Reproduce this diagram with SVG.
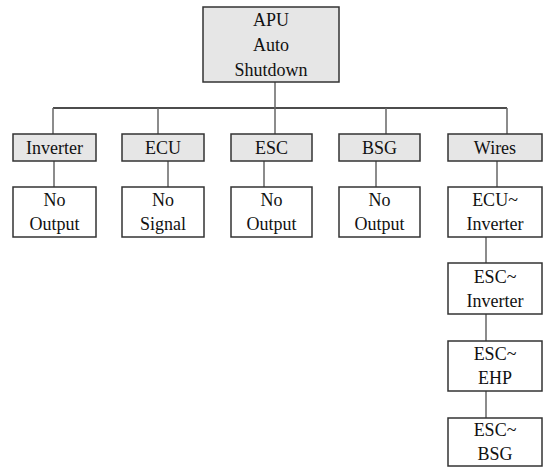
<svg xmlns="http://www.w3.org/2000/svg" width="545" height="468" viewBox="0 0 545 468">
  <style>
    .head { fill: #e6e6e6; stroke: #333; stroke-width: 1.5; }
    .leaf { fill: #ffffff; stroke: #333; stroke-width: 1.5; }
    .bus { stroke: #111; stroke-width: 1.3; fill: none; }
    .link { stroke: #666; stroke-width: 1.5; fill: none; }
    text { font-family: "Liberation Serif", "Times New Roman", serif; font-size: 18px; fill: #111; text-anchor: middle; }
  </style>
  <rect width="545" height="468" fill="#ffffff"/>

  <!-- connectors -->
  <g id="connectors">
    <line class="bus" x1="53" y1="108" x2="507" y2="108"/>
    <line class="link" x1="275" y1="82" x2="275" y2="134"/>
    <line class="link" x1="53" y1="108" x2="53" y2="134"/>
    <line class="link" x1="158" y1="108" x2="158" y2="134"/>
    <line class="link" x1="386" y1="108" x2="386" y2="134"/>
    <line class="link" x1="507" y1="108" x2="507" y2="134"/>
    <line class="link" x1="54" y1="161" x2="54" y2="187"/>
    <line class="link" x1="168" y1="161" x2="168" y2="187"/>
    <line class="link" x1="264" y1="161" x2="264" y2="187"/>
    <line class="link" x1="376" y1="161" x2="376" y2="187"/>
    <line class="link" x1="497" y1="161" x2="497" y2="187"/>
    <line class="link" x1="486" y1="237" x2="486" y2="263"/>
    <line class="link" x1="486" y1="314" x2="486" y2="341"/>
    <line class="link" x1="486" y1="391" x2="486" y2="418"/>
  </g>

  <!-- root -->
  <g id="apu">
    <rect class="head" x="203" y="7" width="136" height="75"/>
    <text x="271" y="26">APU</text>
    <text x="271" y="51">Auto</text>
    <text x="271" y="76">Shutdown</text>
  </g>

  <!-- component row -->
  <g id="inverter">
    <rect class="head" x="13" y="134" width="83" height="27"/>
    <text x="54.5" y="154">Inverter</text>
  </g>
  <g id="ecu">
    <rect class="head" x="122" y="134" width="82" height="27"/>
    <text x="163" y="154">ECU</text>
  </g>
  <g id="esc">
    <rect class="head" x="231" y="134" width="81" height="27"/>
    <text x="271.5" y="154">ESC</text>
  </g>
  <g id="bsg">
    <rect class="head" x="339" y="134" width="81" height="27"/>
    <text x="379.5" y="154">BSG</text>
  </g>
  <g id="wires">
    <rect class="head" x="448" y="134" width="94" height="27"/>
    <text x="495" y="154">Wires</text>
  </g>

  <!-- failure modes -->
  <g id="inverter-fault">
    <rect class="leaf" x="13" y="187" width="83" height="50"/>
    <text x="54.5" y="206">No</text>
    <text x="54.5" y="230">Output</text>
  </g>
  <g id="ecu-fault">
    <rect class="leaf" x="122" y="187" width="82" height="50"/>
    <text x="163" y="206">No</text>
    <text x="163" y="230">Signal</text>
  </g>
  <g id="esc-fault">
    <rect class="leaf" x="231" y="187" width="81" height="50"/>
    <text x="271.5" y="206">No</text>
    <text x="271.5" y="230">Output</text>
  </g>
  <g id="bsg-fault">
    <rect class="leaf" x="339" y="187" width="81" height="50"/>
    <text x="379.5" y="206">No</text>
    <text x="379.5" y="230">Output</text>
  </g>

  <!-- wiring chain -->
  <g id="ecu-inverter">
    <rect class="leaf" x="448" y="187" width="94" height="50"/>
    <text x="495" y="206">ECU~</text>
    <text x="495" y="230">Inverter</text>
  </g>
  <g id="esc-inverter">
    <rect class="leaf" x="448" y="263" width="94" height="51"/>
    <text x="495" y="282.5">ESC~</text>
    <text x="495" y="306.5">Inverter</text>
  </g>
  <g id="esc-ehp">
    <rect class="leaf" x="448" y="341" width="94" height="50"/>
    <text x="495" y="360">ESC~</text>
    <text x="495" y="384">EHP</text>
  </g>
  <g id="esc-bsg">
    <rect class="leaf" x="448" y="418" width="94" height="48"/>
    <text x="495" y="436">ESC~</text>
    <text x="495" y="460">BSG</text>
  </g>
</svg>
